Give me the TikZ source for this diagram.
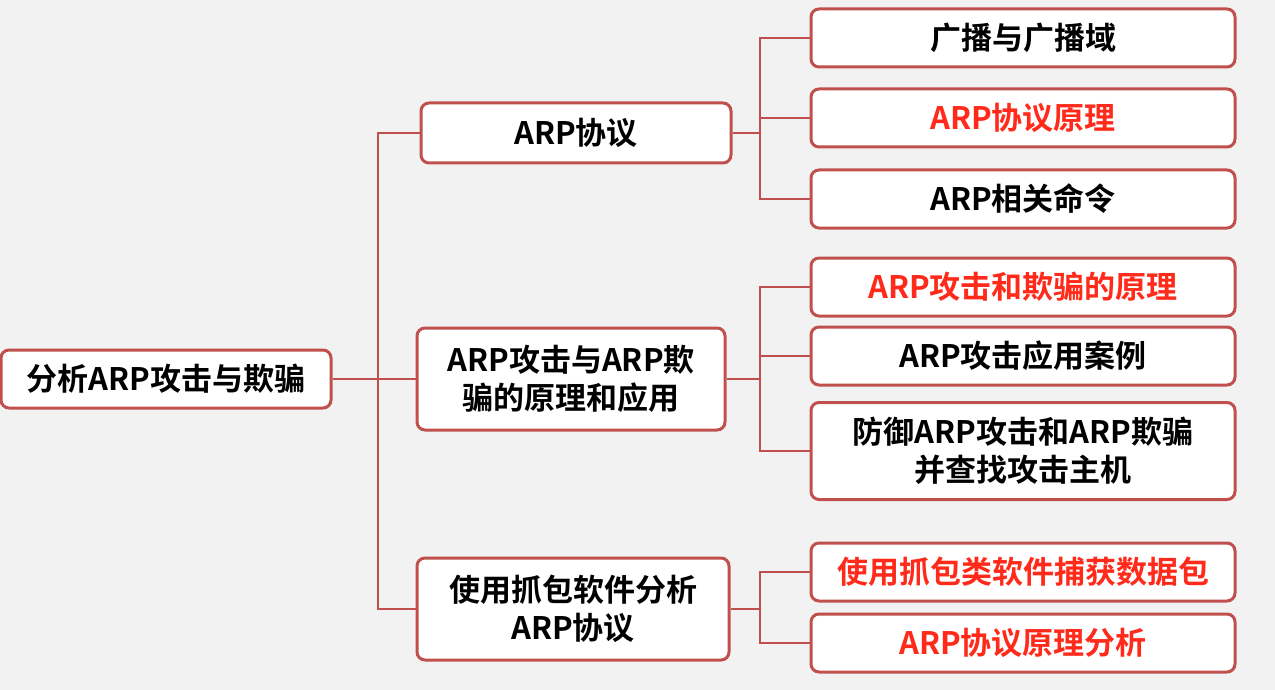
\documentclass[tikz,border=0pt]{standalone}
\usepackage{fontspec}
\setmainfont{Noto Sans CJK SC}[BoldFont={Noto Sans CJK SC Bold}]
\definecolor{bord}{HTML}{C0504D}
\definecolor{redt}{HTML}{FF2A1A}
\definecolor{bg}{HTML}{F2F2F2}
\begin{document}
\begin{tikzpicture}[x=1pt,y=-1pt,
  box/.style={draw=bord,line width=3pt,fill=white,rounded corners=8pt,align=center,font=\fontsize{31}{38}\selectfont\bfseries,inner sep=0pt},
  conn/.style={draw=bord,line width=2.6pt}]
\fill[bg] (0,0) rectangle (1275,690);
\useasboundingbox (0,0) rectangle (1275,690);
\node[box,minimum width=330,minimum height=58] (root) at (166,379) {分析ARP攻击与欺骗};
\node[box,minimum width=310,minimum height=60] (m1) at (576,133) {ARP协议};
\node[box,minimum width=308,minimum height=102] (m2) at (571,379) {ARP攻击与ARP欺\\骗的原理和应用};
\node[box,minimum width=312,minimum height=102] (m3) at (573,609) {使用抓包软件分析\\ARP协议};
\node[box,minimum width=424,minimum height=58] (l1) at (1023,38) {广播与广播域};
\node[box,minimum width=424,minimum height=58,text=redt] (l2) at (1023,118) {ARP协议原理};
\node[box,minimum width=424,minimum height=58] (l3) at (1023,199) {ARP相关命令};
\node[box,minimum width=424,minimum height=58,text=redt] (l4) at (1023,287) {ARP攻击和欺骗的原理};
\node[box,minimum width=424,minimum height=58] (l5) at (1023,356) {ARP攻击应用案例};
\node[box,minimum width=424,minimum height=97] (l6) at (1023,451) {防御ARP攻击和ARP欺骗\\并查找攻击主机};
\node[box,minimum width=424,minimum height=58,text=redt] (l7) at (1023,572) {使用抓包类软件捕获数据包};
\node[box,minimum width=424,minimum height=58,text=redt] (l8) at (1023,643) {ARP协议原理分析};
\coordinate (t0) at (378,379);
\coordinate (t1) at (760,133);
\coordinate (t2) at (760,379);
\coordinate (t3) at (760,609);
\draw[conn] (root.east) -- (t0);
\draw[conn] (m1.west) -| (t0) |- (m3.west);
\draw[conn] (t0) -- (m2.west);
\draw[conn] (m1.east) -- (t1);
\draw[conn] (l1.west) -| (t1) |- (l3.west);
\draw[conn] (t1) |- (l2.west);
\draw[conn] (m2.east) -- (t2);
\draw[conn] (l4.west) -| (t2) |- (l6.west);
\draw[conn] (t2) |- (l5.west);
\draw[conn] (m3.east) -- (t3);
\draw[conn] (l7.west) -| (t3) |- (l8.west);
\end{tikzpicture}
\end{document}
